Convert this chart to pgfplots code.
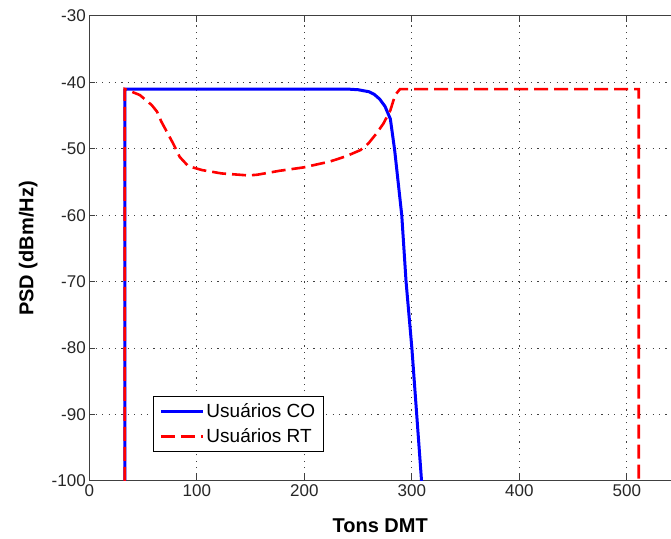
\documentclass[border=0pt]{standalone}
\usepackage{pgfplots}
\pgfplotsset{compat=1.18}
\usepackage{fontspec}
\setmainfont{Liberation Sans}
\definecolor{axgray}{RGB}{64,64,64}
\begin{document}
\begin{tikzpicture}
\begin{axis}[name=ax,
  width=581.7pt, height=465pt, scale only axis,
  xmin=0, xmax=541, ymin=-100, ymax=-30,
  xtick={0,100,...,500}, ytick={-100,-90,...,-30},
  axis y line*=left,
  tick align=inside, major tick length=6pt,
  axis line style={axgray, line width=1pt},
  every tick/.style={axgray, line width=1pt},
  grid=major,
  major grid style={black!75, line width=1pt, dash pattern=on 1.2pt off 5.2pt},
  /pgf/number format/assume math mode=true,
  tick label style={font=\fontsize{17}{17}\selectfont, text=black!85},
  xlabel={Tons DMT}, ylabel={PSD (dBm/Hz)},
  xlabel style={at={(axis description cs:0.5,-0.097)}, anchor=center, font=\bfseries\fontsize{20}{20}\selectfont},
  ylabel style={at={(axis description cs:-0.105,0.5)}, anchor=center, font=\bfseries\fontsize{20}{20}\selectfont},
  legend style={at={(rel axis cs:0.1095,0.0624)}, anchor=south west, draw=black, line width=1pt,
    font=\fontsize{19}{19}\selectfont, inner xsep=6pt, inner ysep=5pt, row sep=6pt, cells={anchor=west}},
  legend image code/.code={\draw[#1] (0pt,0pt) -- (42pt,0pt);},
]
\addplot[blue, line width=3pt, line join=round] coordinates {
(33,-100) (33,-41) (100,-41) (200,-41) (240,-41) (250,-41.1) (260,-41.4) (265,-41.8) (270,-42.5) (275,-43.6) (280,-45.5) (284,-50.2) (290.6,-60) (294.6,-70) (300,-80) (304.5,-90) (309,-100)
};
\addlegendentry{Usuários CO}
\addplot[red, line width=2.6pt, dash pattern=on 14pt off 6pt] coordinates {
(33,-100) (33,-41) (39.4,-41.4) (47,-41.9) (58,-43.4) (63,-44.4) (67,-45.9) (72,-47.4) (78,-49.2) (84,-51.2) (92,-52.6) (105,-53.2) (123,-53.7) (148,-54.0) (156,-53.9) (177,-53.3) (199,-52.8) (224,-51.9) (239,-51.1) (252,-50.2) (259.5,-49.2) (267,-47.7) (273.5,-46.2) (280,-44.2) (284.4,-41.9) (289,-41) (511,-41) (511,-100)
};
\addlegendentry{Usuários RT}
\end{axis}
\pgfresetboundingbox
\path ([shift={(-89.3pt,-58pt)}]ax.south west) rectangle ([shift={(0pt,16pt)}]ax.north east);
\end{tikzpicture}
\end{document}
